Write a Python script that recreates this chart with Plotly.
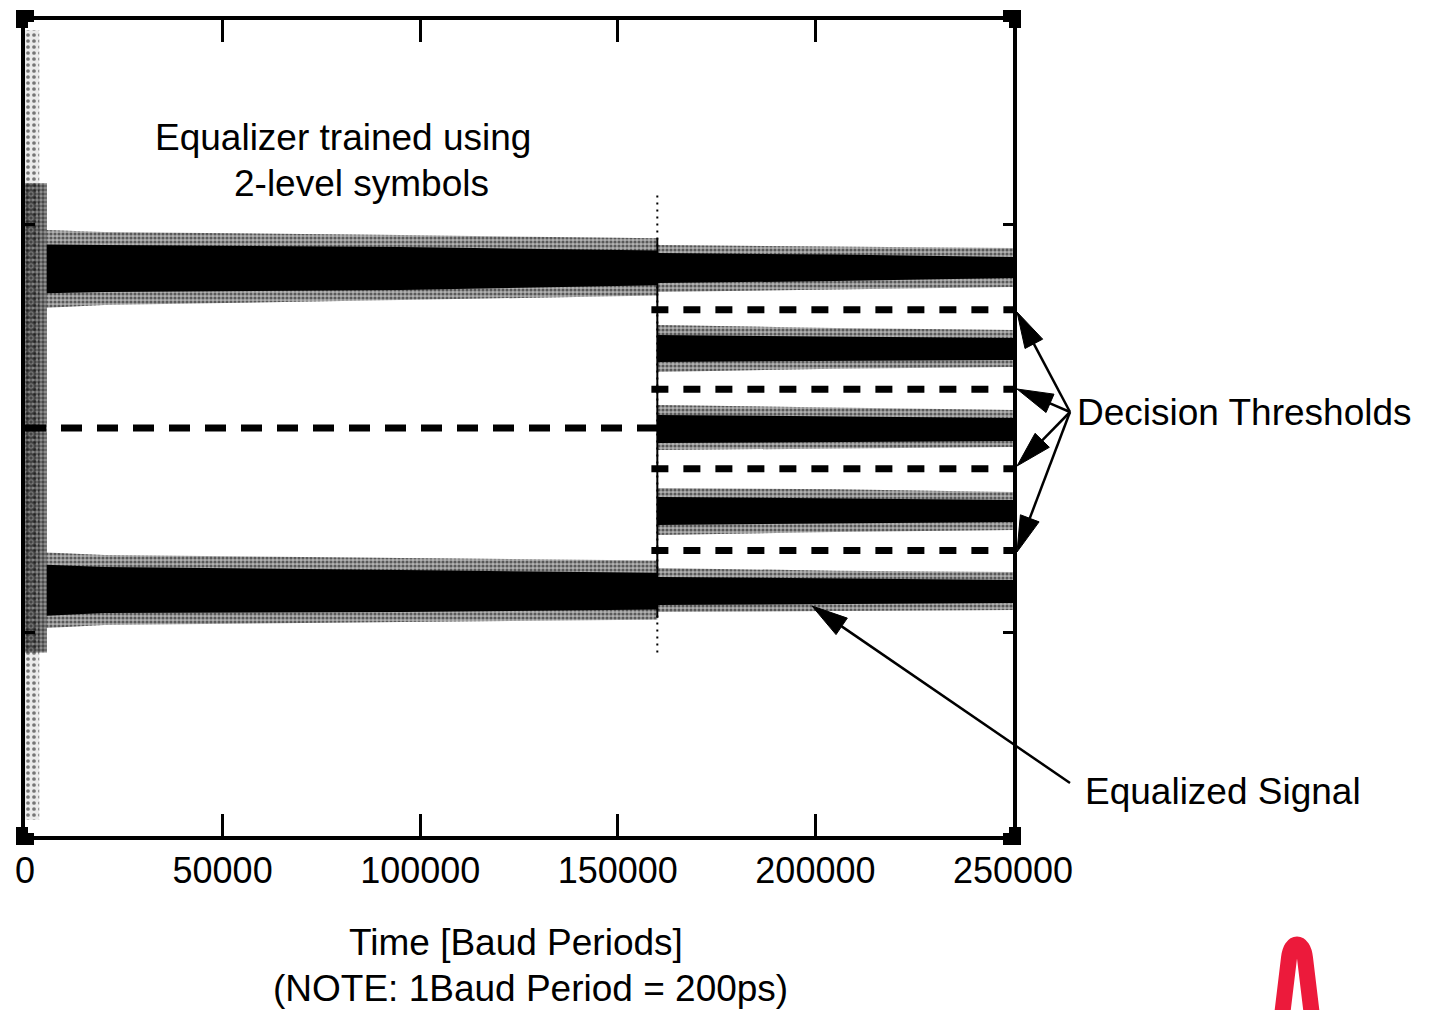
import plotly.graph_objects as go

# ---------------- data ----------------
x_tick_vals = [0, 50000, 100000, 150000, 200000, 250000]
x_tick_text = ["0", "50000", "100000", "150000", "200000", "250000"]
y_tick_vals = [-1, 1]
switch_time = 160000

# start-up transient (time span and amplitude envelope)
trans_dense_t = [0, 5500]
trans_dense_y = [1.20, -1.10]
trans_sparse_t = [0, 3600]
trans_sparse_y = [1.95, -1.92]

# phase 1: 2-level symbols
t1 = [5500, 20000, 95000, 150000, 160000]
top1_outer_hi = [0.97, 0.961, 0.946, 0.931, 0.93]
top1_core_hi = [0.90, 0.897, 0.887, 0.873, 0.87]
top1_core_lo = [0.66, 0.667, 0.676, 0.696, 0.70]
top1_outer_lo = [0.59, 0.603, 0.627, 0.647, 0.65]
bot1_outer_hi = [-0.61, -0.623, -0.637, -0.647, -0.65]
bot1_core_hi = [-0.67, -0.681, -0.696, -0.706, -0.71]
bot1_core_lo = [-0.92, -0.907, -0.902, -0.892, -0.89]
bot1_outer_lo = [-0.98, -0.966, -0.951, -0.941, -0.94]

# phase 2: multi-level symbols (5 levels)
t2 = [160000, 205000, 250000]
bands2_outer_hi = [[0.897, 0.89, 0.882], [0.505, 0.49, 0.480], [0.113, 0.10, 0.088],
                   [-0.294, -0.30, -0.314], [-0.686, -0.70, -0.706]]
bands2_core_hi = [[0.858, 0.85, 0.838], [0.456, 0.45, 0.441], [0.064, 0.055, 0.049],
                  [-0.338, -0.345, -0.353], [-0.730, -0.738, -0.745]]
bands2_core_lo = [[0.711, 0.72, 0.735], [0.324, 0.33, 0.333], [-0.074, -0.07, -0.064],
                  [-0.475, -0.468, -0.461], [-0.868, -0.862, -0.858]]
bands2_outer_lo = [[0.667, 0.68, 0.691], [0.275, 0.29, 0.299], [-0.108, -0.10, -0.093],
                   [-0.525, -0.51, -0.500], [-0.902, -0.897, -0.892]]

# decision thresholds
thr1_t = [0, 160000]
thr1_y = [0.0]
thr2_t = [160000, 250000]
thr2_y = [0.58, 0.19, -0.20, -0.60]

# ---------------- figure ----------------
W, H = 1429, 1010
ML, MR, MT, MB = 25, 416, 20, 174
PW, PH = W - ML - MR, H - MT - MB


def px(x):
    return (x - ML) / PW


def py(y):
    return (H - MB - y) / PH


SPECK = (dict(shape=".", fgcolor="black", bgcolor="rgba(0,0,0,0)", size=4,
              solidity=0.5, fillmode="overlay"), "rgba(0,0,0,0.3)")
SPECK_DENSE = (dict(shape=".", fgcolor="black", bgcolor="rgba(0,0,0,0)", size=4,
                    solidity=0.6, fillmode="overlay"), "rgba(0,0,0,0.42)")
SPECK_SPARSE = (dict(shape=".", fgcolor="black", bgcolor="rgba(0,0,0,0)", size=6,
                     solidity=0.3, fillmode="overlay"), "rgba(0,0,0,0.08)")

fig = go.Figure()


def box(t, hi, lo):
    return [t[0], t[1], t[1], t[0], t[0]], [hi, hi, lo, lo, hi]


def band(t, hi, lo):
    return list(t) + list(t[::-1]) + [t[0]], list(hi) + list(lo[::-1]) + [hi[0]]


def add_poly(xs, ys, style=None):
    base = dict(x=xs, y=ys, mode="lines", fill="toself", line=dict(width=0),
                hoverinfo="skip", showlegend=False)
    if style is None:
        fig.add_trace(go.Scatter(fillcolor="black", **base))
    else:
        pattern, shade = style
        fig.add_trace(go.Scatter(fillcolor=shade, **base))
        fig.add_trace(go.Scatter(fillcolor="rgba(0,0,0,0)", fillpattern=pattern, **base))


# transient
xs, ys = box(trans_sparse_t, *trans_sparse_y)
add_poly(xs, ys, SPECK_SPARSE)
xs, ys = box(trans_dense_t, *trans_dense_y)
add_poly(xs, ys, SPECK_DENSE)

# phase 1 bands
for ohi, chi, clo, olo in [(top1_outer_hi, top1_core_hi, top1_core_lo, top1_outer_lo),
                           (bot1_outer_hi, bot1_core_hi, bot1_core_lo, bot1_outer_lo)]:
    xs, ys = band(t1, ohi, olo)
    add_poly(xs, ys, SPECK)
    xs, ys = band(t1, chi, clo)
    add_poly(xs, ys)

# phase 2 bands
for ohi, chi, clo, olo in zip(bands2_outer_hi, bands2_core_hi, bands2_core_lo, bands2_outer_lo):
    xs, ys = band(t2, ohi, olo)
    add_poly(xs, ys, SPECK)
    xs, ys = band(t2, chi, clo)
    add_poly(xs, ys)

# switch transient line
fig.add_trace(go.Scatter(x=[switch_time, switch_time], y=[1.14, -1.12], mode="lines",
                         line=dict(color="black", width=2, dash="2px,5px"),
                         hoverinfo="skip", showlegend=False))
fig.add_trace(go.Scatter(x=[switch_time, switch_time], y=[0.93, -0.93], mode="lines",
                         line=dict(color="black", width=2),
                         hoverinfo="skip", showlegend=False))

# thresholds
for yv in thr1_y:
    fig.add_trace(go.Scatter(x=thr1_t, y=[yv, yv], mode="lines",
                             line=dict(color="black", width=7, dash="21px,15px"),
                             hoverinfo="skip", showlegend=False))
for yv in thr2_y:
    fig.add_trace(go.Scatter(x=[thr2_t[0] - 1500, thr2_t[1]], y=[yv, yv], mode="lines",
                             line=dict(color="black", width=7, dash="17px,15px"),
                             hoverinfo="skip", showlegend=False))

shapes = []

# corner squares
for cx, cy, dx, dy in [(25, 19, 1, 1), (1012, 19, -1, 1), (25, 836, 1, -1), (1012, 836, -1, -1)]:
    shapes.append(dict(type="rect", xref="paper", yref="paper",
                       x0=px(cx - 9), x1=px(cx + 9), y0=py(cy - 9), y1=py(cy + 9),
                       fillcolor="black", line=dict(width=0), layer="above"))
    xa, xb = sorted([cx + dx * 3, cx + dx * 9])
    ya, yb = sorted([cy + dy * 3, cy + dy * 9])
    shapes.append(dict(type="rect", xref="paper", yref="paper",
                       x0=px(xa), x1=px(xb), y0=py(ya), y1=py(yb),
                       fillcolor="white", line=dict(width=0), layer="above"))


def arrow(ox, oy, tx, ty, head_len=36, half_w=10):
    import math
    dx, dy = ox - tx, oy - ty
    L = math.hypot(dx, dy)
    ux, uy = dx / L, dy / L
    bx, by = tx + ux * head_len, ty + uy * head_len
    nx, ny = -uy, ux
    shapes.append(dict(type="line", xref="paper", yref="paper",
                       x0=px(ox), y0=py(oy), x1=px(bx), y1=py(by),
                       line=dict(color="black", width=2.5)))
    p1 = (bx + nx * half_w, by + ny * half_w)
    p2 = (bx - nx * half_w, by - ny * half_w)
    path = "M {} {} L {} {} L {} {} Z".format(px(tx), py(ty), px(p1[0]), py(p1[1]),
                                               px(p2[0]), py(p2[1]))
    shapes.append(dict(type="path", xref="paper", yref="paper", path=path,
                       fillcolor="black", line=dict(color="black", width=1)))


for ty in [312, 389, 466, 552]:
    arrow(1070, 412, 1017, ty)
arrow(1070, 783, 812, 606)

# red logo
pts = [(1282, 1016), (1289, 958), (1291, 940), (1303, 940), (1305, 958), (1312, 1016)]
logo = "M {} {} L {} {} C {} {} {} {} {} {} L {} {}".format(
    px(pts[0][0]), py(pts[0][1]), px(pts[1][0]), py(pts[1][1]),
    px(pts[2][0]), py(pts[2][1]), px(pts[3][0]), py(pts[3][1]),
    px(pts[4][0]), py(pts[4][1]), px(pts[5][0]), py(pts[5][1]))
shapes.append(dict(type="path", xref="paper", yref="paper", path=logo,
                   line=dict(color="#EC1A3B", width=16)))

font = dict(family="Liberation Sans, Arial, sans-serif", size=37, color="black")
annotations = [
    dict(text="Equalizer trained using", x=px(343), y=py(137)),
    dict(text="2-level symbols", x=px(361), y=py(184)),
    dict(text="Decision Thresholds", x=px(1075), y=py(413), xanchor="left"),
    dict(text="Equalized Signal", x=px(1083), y=py(791), xanchor="left"),
    dict(text="Time [Baud Periods]", x=px(516), y=py(942)),
    dict(text="(NOTE: 1Baud Period = 200ps)", x=px(530), y=py(988)),
]
for a in annotations:
    a.update(xref="paper", yref="paper", showarrow=False, font=font, yanchor="middle")
    a.setdefault("xanchor", "center")

fig.update_layout(
    width=W, height=H, margin=dict(l=ML, r=MR, t=MT, b=MB, pad=0),
    paper_bgcolor="white", plot_bgcolor="white",
    shapes=shapes, annotations=annotations, showlegend=False,
    xaxis=dict(range=[0, 250000], tickvals=x_tick_vals, ticktext=x_tick_text,
               ticks="inside", ticklen=22, tickwidth=3, tickcolor="black",
               showline=True, linewidth=4, linecolor="black", mirror="ticks",
               showgrid=False, zeroline=False,
               tickfont=dict(family="Liberation Sans, Arial, sans-serif", size=36, color="black")),
    yaxis=dict(range=[-2, 2], tickvals=y_tick_vals, showticklabels=False,
               ticks="inside", ticklen=10, tickwidth=3, tickcolor="black",
               showline=True, linewidth=4, linecolor="black", mirror="ticks",
               showgrid=False, zeroline=False),
)

fig.write_html("out.html", config={"displayModeBar": False},
               post_script="document.body.style.margin='0';document.body.style.overflow='hidden';")
